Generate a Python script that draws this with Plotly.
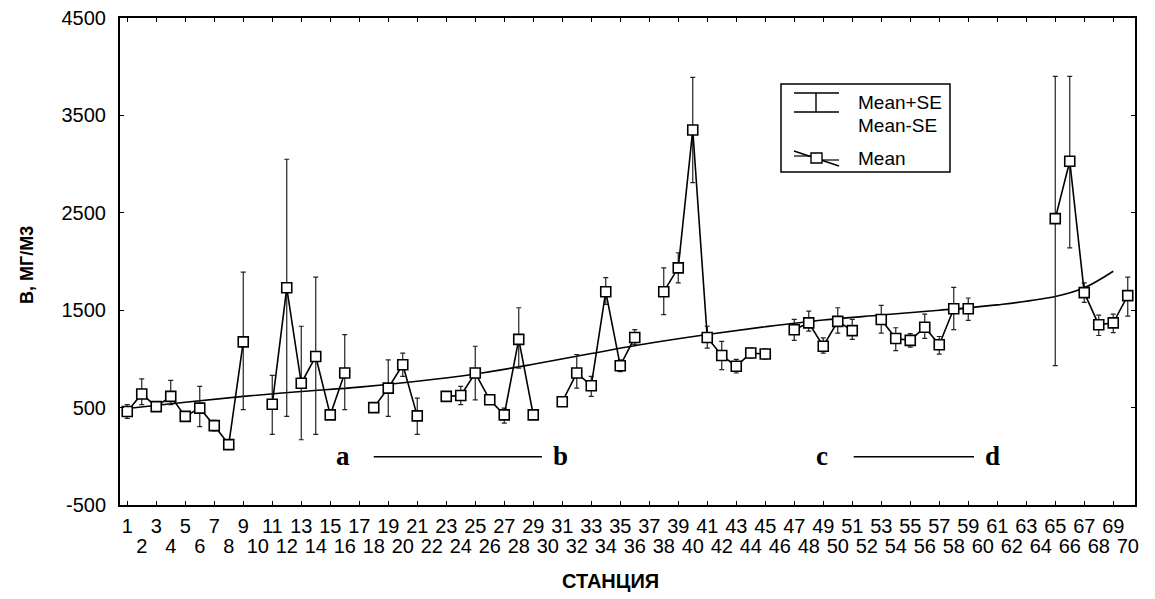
import plotly.graph_objects as go

# ---------------- data ----------------
stations = list(range(1, 71))
mean = [460, 640, 510, 615, 410, 495, 315, 120, 1175, None,
        535, 1730, 750, 1025, 425, 855, None, 500, 700, 940,
        415, None, 615, 625, 855, 580, 425, 1200, 425, None,
        560, 855, 725, 1690, 930, 1220, None, 1690, 1935, 3350,
        1220, 1035, 925, 1060, 1050, None, 1300, 1370, 1130, 1385,
        1290, None, 1405, 1210, 1190, 1325, 1145, 1515, 1515, None,
        None, None, None, None, 2440, 3030, 1680, 1350, 1370, 1650]
mean_plus_se = [530, 795, 550, 780, 450, 717, 370, 150, 1890, None,
                830, 3050, 1335, 1840, 470, 1250, None, 550, 990, 1060,
                597, None, 650, 717, 1130, 620, 494, 1525, 455, None,
                590, 1045, 820, 1835, 990, 1300, None, 1935, 2090, 3890,
                1335, 1180, 995, 1110, 1100, None, 1405, 1490, 1215, 1525,
                1405, None, 1550, 1320, 1260, 1460, 1230, 1735, 1625, None,
                None, None, None, None, 3900, 3900, 1780, 1450, 1460, 1840]
mean_minus_se = [390, 530, 470, 530, 370, 305, 260, 90, 480, None,
                 225, 410, 170, 225, 380, 480, None, 450, 410, 820,
                 226, None, 580, 530, 580, 540, 340, 905, 395, None,
                 530, 700, 615, 1560, 870, 1150, None, 1455, 1780, 2810,
                 1110, 890, 855, 1010, 1000, None, 1190, 1285, 1060, 1265,
                 1200, None, 1265, 1085, 1120, 1210, 1050, 1300, 1395, None,
                 None, None, None, None, 930, 2140, 1580, 1240, 1270, 1440]
trend_x = [1, 5, 9, 13, 17, 21, 25, 29, 33, 37, 41, 45, 49, 53, 57, 61, 65, 67, 69]
trend_y = [490, 555, 615, 665, 710, 770, 845, 945, 1055, 1160, 1250, 1330,
           1400, 1450, 1500, 1555, 1640, 1730, 1900]
odd_labels = [str(s) for s in stations if s % 2 == 1]
even_labels = [str(s) for s in stations if s % 2 == 0]
y_ticks = [-500, 500, 1500, 2500, 3500, 4500]
y_tick_labels = ["-500", "500", "1500", "2500", "3500", "4500"]

err_plus = [None if m is None else u - m for m, u in zip(mean, mean_plus_se)]
err_minus = [None if m is None else m - l for m, l in zip(mean, mean_minus_se)]

# ---------------- layout geometry ----------------
# page body has an 8px margin: work in screen pixels and offset
OFF = 8
W, H = 1155 - OFF, 599 - OFF
L, R, T, B = 120 - OFF, 20, 18 - OFF, 94
PW, PH = W - L - R, H - T - B


def px(x):  # screen px -> paper
    return (x - OFF - L) / PW


def py(y):
    return (H - B - (y - OFF)) / PH


FONT = "Liberation Sans, Arial, sans-serif"
fig = go.Figure()

# trend line
fig.add_trace(go.Scatter(x=trend_x, y=trend_y, mode="lines",
                         line=dict(color="black", width=1.6, shape="spline", smoothing=1.0),
                         hoverinfo="skip", showlegend=False))

# means with SE bars
fig.add_trace(go.Scatter(
    x=stations, y=mean, mode="lines+markers",
    line=dict(color="black", width=1.6),
    marker=dict(symbol="square", size=10, color="white",
                line=dict(color="black", width=1.6)),
    error_y=dict(type="data", symmetric=False, array=err_plus, arrayminus=err_minus,
                 color="#222", thickness=1.2, width=2.5),
    connectgaps=False, showlegend=False))

# dummy trace for the second label row axis
fig.add_trace(go.Scatter(x=[None], y=[None], xaxis="x2", showlegend=False))

shapes = []
annotations = []

# legend box (drawn)
shapes.append(dict(type="rect", xref="paper", yref="paper",
                   x0=px(781), x1=px(950), y0=py(172), y1=py(84),
                   line=dict(color="black", width=1.5), fillcolor="white", layer="above"))
# error bar icon
shapes.append(dict(type="line", xref="paper", yref="paper", x0=px(794), x1=px(839),
                   y0=py(93), y1=py(93), line=dict(color="black", width=1.4)))
shapes.append(dict(type="line", xref="paper", yref="paper", x0=px(794), x1=px(839),
                   y0=py(112), y1=py(112), line=dict(color="black", width=1.4)))
shapes.append(dict(type="line", xref="paper", yref="paper", x0=px(816), x1=px(816),
                   y0=py(93), y1=py(112), line=dict(color="black", width=1.4)))
# mean icon
shapes.append(dict(type="line", xref="paper", yref="paper", x0=px(794), x1=px(839),
                   y0=py(151), y1=py(166), line=dict(color="black", width=1.4)))
shapes.append(dict(type="line", xref="paper", yref="paper", x0=px(794), x1=px(812),
                   y0=py(156), y1=py(156), line=dict(color="black", width=1.2)))
shapes.append(dict(type="line", xref="paper", yref="paper", x0=px(822), x1=px(839),
                   y0=py(160), y1=py(160), line=dict(color="black", width=1.2)))
shapes.append(dict(type="rect", xref="paper", yref="paper", x0=px(811), x1=px(822),
                   y0=py(163), y1=py(153), line=dict(color="black", width=1.4),
                   fillcolor="white"))
for txt, yy in [("Mean+SE", 102), ("Mean-SE", 126), ("Mean", 158)]:
    annotations.append(dict(text=txt, xref="paper", yref="paper", x=px(856), y=py(yy),
                            xanchor="left", yanchor="middle", showarrow=False,
                            font=dict(family=FONT, size=19, color="black")))

# a-b, c-d markers
for lab, xs in [("a", 15.9), ("b", 30.9), ("c", 48.9), ("d", 60.7)]:
    annotations.append(dict(text="<b>%s</b>" % lab, x=xs, y=0, xref="x", yref="y",
                            showarrow=False, xanchor="center", yanchor="middle",
                            font=dict(family="Liberation Serif, Times New Roman, serif",
                                      size=27, color="black")))
for x0, x1 in [(18.0, 29.6), (51.1, 59.4)]:
    shapes.append(dict(type="line", xref="x", yref="y", x0=x0, x1=x1, y0=-5, y1=-5,
                       line=dict(color="black", width=1.5)))

# axis titles
annotations.append(dict(text="<b>В, МГ/М3</b>", xref="paper", yref="paper",
                        x=px(27), y=py(265), textangle=-90, showarrow=False,
                        xanchor="center", yanchor="middle",
                        font=dict(family=FONT, size=18, color="black")))
annotations.append(dict(text="<b>СТАНЦИЯ</b>", xref="paper", yref="paper",
                        x=px(610), y=py(581), showarrow=False,
                        xanchor="center", yanchor="middle",
                        font=dict(family=FONT, size=20, color="black")))

fig.update_layout(
    width=W, height=H,
    margin=dict(l=L, r=R, t=T, b=B, autoexpand=False),
    plot_bgcolor="white", paper_bgcolor="white",
    shapes=shapes, annotations=annotations,
    xaxis=dict(range=[0.5, 70.5], tickmode="array", automargin=False,
               tickvals=[s for s in stations if s % 2 == 1], ticktext=odd_labels,
               tickangle=0, ticks="inside", ticklen=4, tickcolor="black",
               showline=True, linecolor="black", linewidth=2, mirror="ticks",
               showgrid=False, zeroline=False, ticklabelstandoff=2,
               ticklabeloverflow="allow",
               tickfont=dict(family=FONT, size=20, color="black")),
    xaxis2=dict(range=[0.5, 70.5], overlaying="x", anchor="y", side="bottom",
                automargin=False, ticklabeloverflow="allow",
                tickmode="array", tickvals=[s for s in stations if s % 2 == 0],
                ticktext=even_labels, tickangle=0, ticks="", showline=False,
                showgrid=False, zeroline=False, ticklabelstandoff=27,
                tickfont=dict(family=FONT, size=20, color="black")),
    yaxis=dict(range=[-500, 4500], tickmode="array", tickvals=y_ticks,
               ticktext=y_tick_labels, automargin=False, ticklabeloverflow="allow",
               ticks="inside", ticklen=4, tickcolor="black",
               showline=True, linecolor="black", linewidth=2, mirror="ticks",
               showgrid=False, zeroline=False, ticklabelstandoff=8,
               tickfont=dict(family=FONT, size=20, color="black")),
)

fig.write_html("out.html")
